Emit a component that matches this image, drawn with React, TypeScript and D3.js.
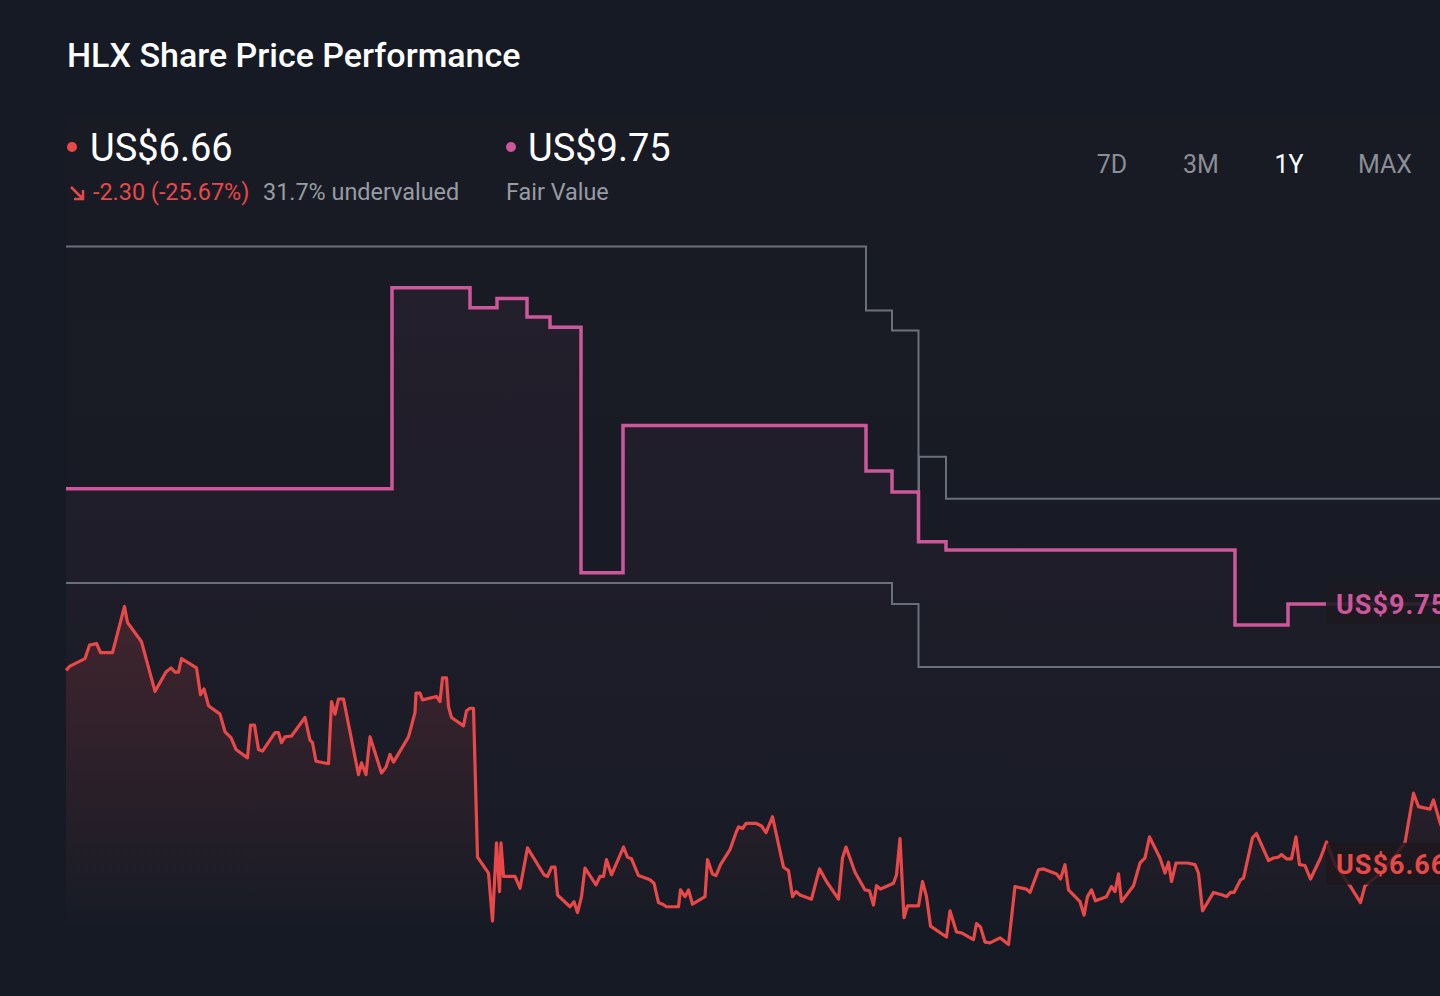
import * as d3 from 'd3'

// share price, [trading day, US$]
const priceSeries: [number, number][] = [
  [0, 8.96], [0.8, 9.01], [3.8, 9.1], [4.7, 9.26], [6.1, 9.28], [6.9, 9.17], [9.3, 9.17], [11.7, 9.72],
  [12.3, 9.53], [15.1, 9.3], [17.8, 8.71], [20, 8.94], [21, 8.99], [21.8, 8.94], [22.5, 8.94], [23.1, 9.1],
  [26.1, 8.99], [26.9, 8.67], [27.6, 8.74], [28.5, 8.54], [30.8, 8.44], [31.8, 8.23], [33, 8.16], [34, 8.02],
  [36.3, 7.92], [36.9, 8.31], [37.7, 8.31], [38.5, 8.02], [39.3, 8.0], [41.8, 8.22], [42.5, 8.22], [43.1, 8.1],
  [43.8, 8.17], [45.1, 8.18], [47.8, 8.4], [48.8, 8.13], [49.3, 8.1], [50, 7.88], [52.5, 7.85], [53.1, 8.59],
  [53.8, 8.44], [54.5, 8.62], [55.5, 8.62], [58.5, 7.72], [59.1, 7.86], [60, 7.72], [60.8, 8.17], [63.1, 7.74],
  [64, 7.81], [64.8, 7.96], [65.5, 7.87], [68.5, 8.17], [69.8, 8.46], [70, 8.69], [70.8, 8.69], [71.3, 8.61],
  [74.1, 8.65], [74.8, 8.59], [75.3, 8.87], [76.1, 8.87], [76.5, 8.53], [77.1, 8.4], [79.5, 8.3], [80.1, 8.48],
  [80.8, 8.51], [81.5, 8.51], [82.3, 6.74], [84.5, 6.55], [85.3, 5.98], [86.1, 6.91], [86.7, 6.33], [87.0, 6.91],
  [87.5, 6.51], [89.8, 6.51], [90.8, 6.37], [92.3, 6.85], [95.6, 6.53], [96.3, 6.51], [97.1, 6.62], [97.8, 6.62],
  [98.3, 6.29], [100.8, 6.15], [101.6, 6.21], [102.3, 6.08], [103.1, 6.27], [103.8, 6.61], [106, 6.41], [106.8, 6.51],
  [107.5, 6.51], [108.1, 6.71], [109.1, 6.53], [111.5, 6.86], [112.3, 6.74], [113.1, 6.72], [114.5, 6.52], [116.8, 6.47],
  [117.6, 6.43], [118.5, 6.2], [119.3, 6.18], [120.1, 6.15], [122.5, 6.15], [122.9, 6.35], [123.8, 6.27], [124.5, 6.35],
  [125.3, 6.18], [127.8, 6.27], [128.3, 6.71], [129.3, 6.54], [130, 6.52], [130.9, 6.65], [132.8, 6.83], [134, 7.03],
  [134.5, 7.1], [135.3, 7.08], [136, 7.14], [138.1, 7.14], [139.1, 7.11], [140, 7.03], [141.3, 7.22], [143.5, 6.62],
  [144.5, 6.58], [145.3, 6.27], [146, 6.33], [146.8, 6.29], [149.1, 6.24], [150.7, 6.6], [152.1, 6.45], [154.5, 6.24],
  [155.3, 6.73], [156, 6.86], [157.8, 6.56], [159.8, 6.35], [160.7, 6.34], [161.5, 6.17], [162.1, 6.4], [162.9, 6.36],
  [165.5, 6.43], [166.1, 6.53], [166.8, 6.96], [167.6, 6.02], [168.3, 6.16], [170.5, 6.16], [171.3, 6.45], [172.1, 6.27],
  [172.9, 5.92], [176.1, 5.79], [176.8, 6.1], [178.1, 5.85], [179.1, 5.84], [181.5, 5.76], [182.1, 5.95], [182.9, 5.91],
  [183.8, 5.73], [184.8, 5.72], [186.8, 5.78], [188.5, 5.7], [189.8, 6.39], [192.1, 6.36], [192.8, 6.32], [194.5, 6.59],
  [195.5, 6.6], [198.1, 6.54], [198.9, 6.48], [199.8, 6.65], [200.5, 6.35], [202.8, 6.21], [203.6, 6.05], [204.3, 6.27],
  [205.1, 6.35], [205.9, 6.22], [208.1, 6.27], [209.1, 6.39], [209.8, 6.33], [210.5, 6.54], [211.1, 6.21], [213.5, 6.4],
  [214.8, 6.67], [215.8, 6.73], [216.7, 6.98], [218.8, 6.73], [219.8, 6.55], [220.5, 6.68], [221.1, 6.45], [222, 6.67],
  [224.3, 6.67], [225.8, 6.65], [226.5, 6.55], [227.3, 6.1], [229.5, 6.32], [231.3, 6.29], [232.1, 6.27], [232.9, 6.32],
  [233.6, 6.32], [234.9, 6.47], [235.5, 6.49], [237.3, 6.97], [238.1, 7.02], [240.5, 6.7], [241.5, 6.73], [242.5, 6.74],
  [243.1, 6.77], [244.1, 6.72], [245.1, 6.72], [246, 6.98], [246.7, 6.65], [247.8, 6.64], [248.9, 6.48], [250.9, 6.73],
  [252.1, 6.92], [253.8, 6.65], [256.8, 6.4], [258.9, 6.2], [259.8, 6.4], [263, 6.55], [267.8, 6.91], [269.5, 7.5],
  [270.5, 7.34], [272.8, 7.31], [273.5, 7.42], [274.8, 7.15], [278, 6.66],
]

// fair value estimate (step changes)
const fairValueSteps: [number, number][] = [
  [0, 11.12], [65.2, 13.51], [80.8, 13.27], [86.2, 13.38], [92.2, 13.16], [96.8, 13.04], [103, 10.12],
  [111.4, 11.87], [160, 11.33], [165.2, 11.08], [170.5, 10.49], [176, 10.39], [233.8, 9.5], [244.4, 9.75], [278, 9.75],
]

// analyst target range
const highTargetSteps: [number, number][] = [
  [0, 14.0], [160, 13.24], [165.2, 13.0], [170.5, 11.08], [170.6, 11.5], [176, 11.0], [278, 11.0],
]
const lowTargetSteps: [number, number][] = [
  [0, 10.0], [165.2, 9.75], [170.5, 9.0], [278, 9.0],
]

const ranges = ['7D', '3M', '1Y', 'MAX']
const activeRange = '1Y'

const lastPrice = 6.66
const fairValue = 9.75
const priceChange = '-2.30 (-25.67%)'
const valuationText = '31.7% undervalued'

const W = 1440
const H = 996
const BG = '#151a24'
const RED = '#e84848'
const PINK = '#cd579b'
const GREY_LINE = '#6a707a'
const GREY_TEXT = '#979ba3'
const FONT = 'Roboto, "Noto Sans", sans-serif'

export default function App() {
  const x = d3.scaleLinear().domain([0, 278]).range([66, 1456])
  const y = d3.scaleLinear().domain([5.6, 14.6]).range([953, 196])
  const bottom = 925

  const stepLine = d3.line<[number, number]>()
    .x(d => x(d[0]))
    .y(d => y(d[1]))
    .curve(d3.curveStepAfter)
  const stepArea = d3.area<[number, number]>()
    .x(d => x(d[0]))
    .y0(bottom)
    .y1(d => y(d[1]))
    .curve(d3.curveStepAfter)
  const priceLine = d3.line<[number, number]>()
    .x(d => x(d[0]))
    .y(d => y(d[1]))
  const priceArea = d3.area<[number, number]>()
    .x(d => x(d[0]))
    .y0(bottom)
    .y1(d => y(d[1]))

  const endX = x(278)
  const labelX = endX - 130

  const rangeX = [1112, 1201, 1289, 1385]

  return (
    <svg width={W} height={H} style={{ position: 'absolute', top: 0, left: 0, fontFamily: FONT }}>
      <defs>
        <linearGradient id="panelGrad" gradientUnits="userSpaceOnUse" x1="0" y1="115" x2="0" y2={bottom}>
          <stop offset="0%" stopColor="#191b24" />
          <stop offset="100%" stopColor="#171b25" />
        </linearGradient>
        <linearGradient id="priceGrad" gradientUnits="userSpaceOnUse" x1="0" y1="600" x2="0" y2={bottom}>
          <stop offset="0%" stopColor={RED} stopOpacity={0.18} />
          <stop offset="100%" stopColor={RED} stopOpacity={0.0} />
        </linearGradient>
        <linearGradient id="fairGrad" gradientUnits="userSpaceOnUse" x1="0" y1="280" x2="0" y2={bottom}>
          <stop offset="0%" stopColor={PINK} stopOpacity={0.06} />
          <stop offset="100%" stopColor={PINK} stopOpacity={0.0} />
        </linearGradient>
      </defs>

      <rect width={W} height={H} fill={BG} />
      <rect x={66} y={115} width={W - 66} height={bottom - 115} fill="url(#panelGrad)" />

      {/* header */}
      <text x={67} y={67} fill="#ffffff" fontSize={34} fontWeight={500}>HLX Share Price Performance</text>

      <circle cx={72} cy={147} r={5} fill={RED} />
      <text x={90} y={161} fill="#ffffff" fontSize={38}>US${lastPrice.toFixed(2)}</text>
      <path d="M71,187 L83,199 M83,190 L83,199 L74,199" fill="none" stroke={RED} strokeWidth={2.5} />
      <text x={93} y={200} fill={RED} fontSize={23.4}>{priceChange}</text>
      <text x={263} y={200} fill={GREY_TEXT} fontSize={23.4}>{valuationText}</text>

      <circle cx={511} cy={147} r={5} fill={PINK} />
      <text x={528} y={161} fill="#ffffff" fontSize={38}>US${fairValue.toFixed(2)}</text>
      <text x={506} y={200} fill={GREY_TEXT} fontSize={23.4}>Fair Value</text>

      {ranges.map((r, i) => (
        <text key={r} x={rangeX[i]} y={173} textAnchor="middle" fontSize={25}
          fill={r === activeRange ? '#ffffff' : '#8a8e96'}>{r}</text>
      ))}

      {/* fills */}
      <path d={stepArea(fairValueSteps) || ''} fill="url(#fairGrad)" />
      <path d={priceArea(priceSeries) || ''} fill="url(#priceGrad)" />

      {/* analyst target range */}
      <path d={stepLine(highTargetSteps) || ''} fill="none" stroke={GREY_LINE} strokeWidth={2} />
      <path d={stepLine(lowTargetSteps) || ''} fill="none" stroke={GREY_LINE} strokeWidth={2} />

      {/* fair value */}
      <path d={stepLine(fairValueSteps) || ''} fill="none" stroke={PINK} strokeWidth={3.5} />

      {/* price */}
      <path d={priceLine(priceSeries) || ''} fill="none" stroke={RED} strokeWidth={3.2} strokeLinejoin="round" />

      {/* end labels */}
      <g transform={`translate(${labelX}, ${y(fairValue)})`}>
        <rect x={0} y={-21} width={140} height={41} rx={4} fill="#1d1920" fillOpacity={0.88} />
        <text x={10} y={10} fill={PINK} fontSize={27} fontWeight={700} letterSpacing={1}>US${fairValue.toFixed(2)}</text>
      </g>
      <g transform={`translate(${labelX}, ${y(lastPrice)})`}>
        <rect x={0} y={-21} width={140} height={42} rx={4} fill="#1e181d" fillOpacity={0.85} />
        <text x={10} y={10} fill={RED} fontSize={27} fontWeight={700} letterSpacing={1}>US${lastPrice.toFixed(2)}</text>
      </g>
    </svg>
  )
}
